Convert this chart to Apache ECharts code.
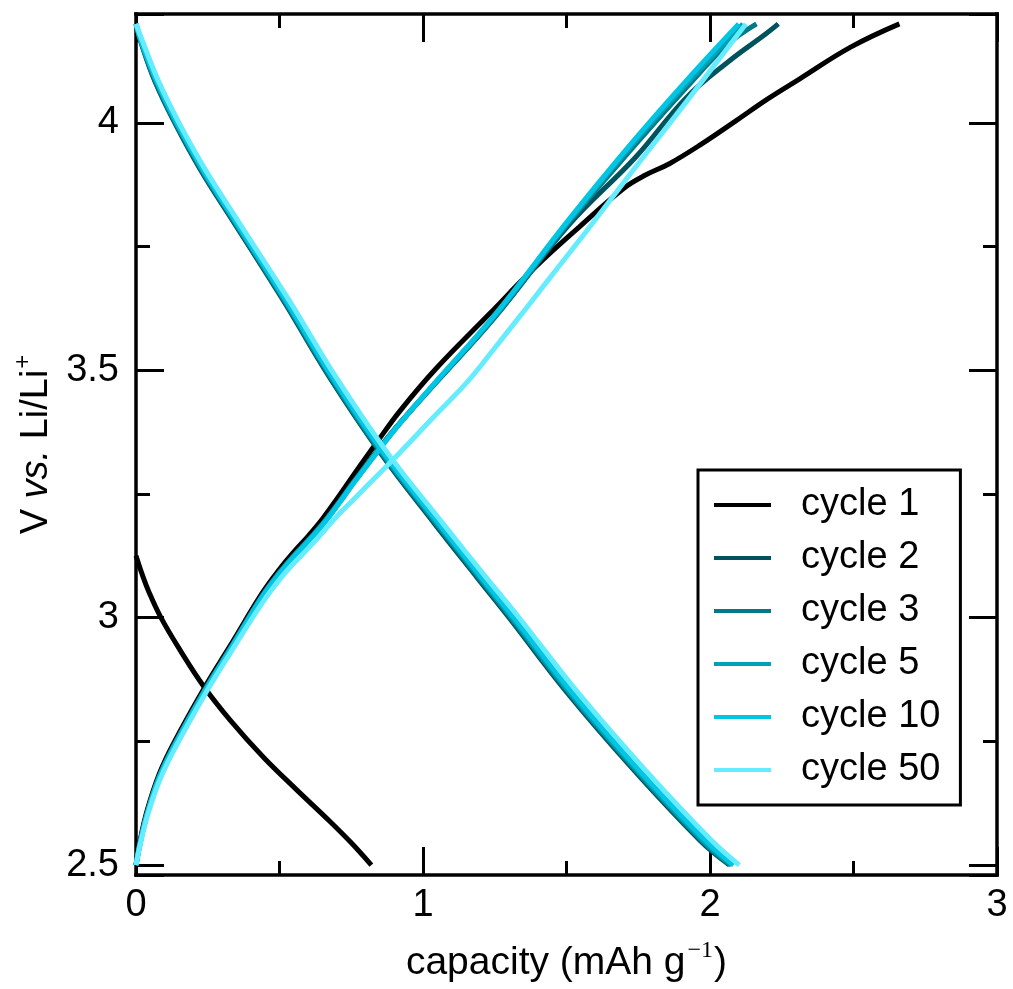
<!DOCTYPE html>
<html>
<head>
<meta charset="utf-8">
<script src="https://cdn.jsdelivr.net/npm/echarts@6/dist/echarts.min.js"></script>
<style>
  html, body { margin: 0; padding: 0; background: #fff; }
  #chart { width: 1013px; height: 989px; }
</style>
</head>
<body>
<div id="chart"></div>
<script>
// Galvanostatic voltage profiles, [capacity (mAh/g), voltage (V vs Li/Li+)]
const cycleNames = ['cycle 1', 'cycle 2', 'cycle 3', 'cycle 5', 'cycle 10', 'cycle 50'];
const cycleColors = ['#000000', '#00525c', '#007a88', '#00a0b6', '#00c6e4', '#66ecff'];

const xTicks = [0, 1, 2, 3];
const yTicks = [2.5, 3, 3.5, 4];

const cycle1Discharge = [[0, 3.125], [0.02, 3.09], [0.045, 3.052], [0.087, 3.0], [0.153, 2.935], [0.235, 2.862],
  [0.328, 2.793], [0.444, 2.718], [0.56, 2.652], [0.676, 2.588], [0.75, 2.545], [0.82, 2.5]];
const cycle1Charge = [[0, 2.5], [0.015, 2.552], [0.04, 2.613], [0.08, 2.683], [0.13, 2.745], [0.24, 2.86], [0.33, 2.945],
  [0.44, 3.05], [0.50, 3.098], [0.55, 3.133], [0.60, 3.165], [0.65, 3.2], [0.70, 3.24], [0.76, 3.29], [0.84, 3.355],
  [0.92, 3.418], [1.045, 3.503], [1.23, 3.613], [1.39, 3.708], [1.545, 3.79], [1.70, 3.868], [1.77, 3.893], [1.86, 3.918],
  [1.97, 3.957], [2.09, 4.004], [2.2, 4.048], [2.31, 4.088], [2.49, 4.153], [2.66, 4.2]];

const cycle2Discharge = [[0, 4.2], [0.02, 4.158], [0.065, 4.085], [0.135, 4.0], [0.225, 3.905], [0.345, 3.795], [0.46, 3.69],
  [0.525, 3.63], [0.675, 3.485], [0.855, 3.33], [1.04, 3.19], [1.19, 3.08], [1.3, 3.0], [1.5, 2.85], [1.73, 2.695],
  [1.965, 2.55], [2.068, 2.5]];
const cycle2Charge = [[0, 2.5], [0.015, 2.548], [0.04, 2.608], [0.08, 2.678], [0.13, 2.74], [0.24, 2.855], [0.33, 2.94],
  [0.44, 3.045], [0.50, 3.092], [0.55, 3.126], [0.60, 3.157], [0.65, 3.19], [0.70, 3.228], [0.76, 3.276], [0.84, 3.337],
  [0.92, 3.394], [1.045, 3.475], [1.25, 3.607], [1.51, 3.795], [1.74, 3.93], [1.916, 4.05], [2.067, 4.125], [2.195, 4.18],
  [2.238, 4.2]];

const cycle3Discharge = [[0, 4.2], [0.02, 4.159], [0.067, 4.085], [0.137, 4.0], [0.228, 3.905], [0.348, 3.795], [0.463, 3.69],
  [0.528, 3.63], [0.678, 3.485], [0.858, 3.33], [1.045, 3.19], [1.195, 3.08], [1.305, 3.0], [1.505, 2.85], [1.735, 2.695],
  [1.97, 2.55], [2.072, 2.5]];
const cycle3Charge = [[0, 2.5], [0.015, 2.547], [0.04, 2.607], [0.08, 2.677], [0.13, 2.739], [0.24, 2.854], [0.33, 2.939],
  [0.44, 3.044], [0.50, 3.091], [0.55, 3.125], [0.60, 3.156], [0.65, 3.189], [0.70, 3.227], [0.76, 3.275], [0.84, 3.336],
  [0.92, 3.393], [1.045, 3.475], [1.25, 3.608], [1.51, 3.8], [1.74, 3.956], [1.92, 4.073], [2.06, 4.158], [2.162, 4.2]];

const cycle5Discharge = [[0, 4.2], [0.02, 4.16], [0.07, 4.085], [0.14, 4.0], [0.231, 3.905], [0.351, 3.795], [0.466, 3.69],
  [0.531, 3.63], [0.682, 3.485], [0.862, 3.33], [1.05, 3.19], [1.2, 3.08], [1.31, 3.0], [1.51, 2.85], [1.74, 2.695],
  [1.975, 2.55], [2.076, 2.5]];
const cycle5Charge = [[0, 2.5], [0.015, 2.546], [0.04, 2.606], [0.08, 2.676], [0.13, 2.738], [0.24, 2.853], [0.33, 2.938],
  [0.44, 3.043], [0.50, 3.09], [0.55, 3.124], [0.60, 3.155], [0.65, 3.188], [0.70, 3.226], [0.76, 3.274], [0.84, 3.335],
  [0.92, 3.393], [1.045, 3.476], [1.25, 3.61], [1.51, 3.803], [1.74, 3.963], [1.92, 4.08], [2.115, 4.2]];

const cycle10Discharge = [[0, 4.2], [0.021, 4.161], [0.072, 4.085], [0.143, 4.0], [0.234, 3.905], [0.354, 3.795], [0.47, 3.69],
  [0.535, 3.63], [0.686, 3.485], [0.867, 3.33], [1.056, 3.19], [1.206, 3.08], [1.317, 3.0], [1.518, 2.85], [1.748, 2.695],
  [1.984, 2.55], [2.082, 2.5]];
const cycle10Charge = [[0, 2.5], [0.015, 2.545], [0.04, 2.605], [0.08, 2.675], [0.13, 2.737], [0.24, 2.852], [0.33, 2.937],
  [0.44, 3.042], [0.50, 3.089], [0.55, 3.123], [0.60, 3.154], [0.65, 3.187], [0.70, 3.225], [0.76, 3.273], [0.84, 3.334],
  [0.92, 3.393], [1.045, 3.477], [1.25, 3.612], [1.51, 3.806], [1.74, 3.968], [1.92, 4.087], [2.10, 4.2]];

const cycle50Discharge = [[0, 4.2], [0.025, 4.162], [0.078, 4.085], [0.15, 4.0], [0.242, 3.905], [0.363, 3.795], [0.48, 3.69],
  [0.546, 3.63], [0.698, 3.485], [0.88, 3.33], [1.07, 3.19], [1.222, 3.08], [1.335, 3.0], [1.538, 2.85], [1.77, 2.695],
  [2.005, 2.55], [2.102, 2.5]];
const cycle50Charge = [[0, 2.5], [0.015, 2.542], [0.04, 2.6], [0.08, 2.668], [0.13, 2.73], [0.24, 2.845], [0.33, 2.93],
  [0.44, 3.03], [0.50, 3.077], [0.55, 3.11], [0.60, 3.14], [0.65, 3.172], [0.70, 3.205], [0.76, 3.24], [0.84, 3.287],
  [0.92, 3.334], [1.036, 3.405], [1.152, 3.475], [1.25, 3.545], [1.359, 3.625], [1.46, 3.7], [1.568, 3.78], [1.684, 3.868],
  [1.78, 3.94], [1.858, 3.998], [1.974, 4.085], [2.125, 4.2]];

const curves = [
  [cycle1Discharge, cycle1Charge],
  [cycle2Discharge, cycle2Charge],
  [cycle3Discharge, cycle3Charge],
  [cycle5Discharge, cycle5Charge],
  [cycle10Discharge, cycle10Charge],
  [cycle50Discharge, cycle50Charge]
];

const FONT = '"Liberation Sans", Arial, Helvetica, sans-serif';
const SERIF = '"Liberation Serif", "Times New Roman", serif';
const INK = '#000';

// each cycle is a discharge branch and a charge branch sharing one legend entry
const series = [];
curves.forEach((pair, i) => {
  pair.forEach(branch => {
    series.push({
      type: 'line',
      name: cycleNames[i],
      data: branch,
      showSymbol: false,
      symbol: 'none',
      smooth: 0.4,
      lineStyle: { color: cycleColors[i], width: 5, cap: 'butt', join: 'round' },
      itemStyle: { color: cycleColors[i] },
      emphasis: { disabled: true },
      silent: true
    });
  });
});

const tickStyle = {
  axisTick: { show: true, inside: true, length: 28, lineStyle: { color: INK, width: 3 } },
  minorTick: { show: true, splitNumber: 2, length: 14, lineStyle: { color: INK, width: 3 } },
  axisLine: { show: true, onZero: false, lineStyle: { color: INK, width: 3.5, cap: 'square' } },
  splitLine: { show: false },
  minorSplitLine: { show: false }
};

const xBase = {
  type: 'value',
  min: xTicks[0],
  max: xTicks[xTicks.length - 1],
  interval: xTicks[1] - xTicks[0],
  ...tickStyle
};
const yBase = {
  type: 'value',
  min: 2.48,
  max: 4.22,
  splitNumber: 4,
  ...tickStyle
};

const option = {
  animation: false,
  backgroundColor: '#fff',
  grid: { left: 136, right: 16, top: 14, bottom: 114, containLabel: false, outerBoundsMode: 'none' },
  xAxis: [
    {
      ...xBase,
      position: 'bottom',
      axisLabel: { show: true, margin: 12, fontSize: 38, fontFamily: FONT, color: INK,
        formatter: v => (xTicks.includes(v) ? String(v) : '') },
      name: '{n|capacity (mAh g}{s|\u22121}{n|)}',
      nameLocation: 'middle',
      nameGap: 64,
      nameTextStyle: {
        color: INK,
        rich: {
          n: { fontSize: 39, fontFamily: FONT, color: INK },
          s: { fontSize: 24, fontFamily: SERIF, color: INK, padding: [0, 1, 24, 2] }
        }
      }
    },
    {
      ...xBase,
      position: 'top',
      axisLabel: { show: false }
    }
  ],
  yAxis: [
    {
      ...yBase,
      position: 'left',
      axisLabel: { show: true, margin: 17, fontSize: 38, fontFamily: FONT, color: INK,
        showMinLabel: false, showMaxLabel: false,
        formatter: v => (yTicks.includes(v) ? String(v) : '') },
      name: '{n|V }{i|vs.}{n| Li/Li}{s|+}',
      nameLocation: 'middle',
      nameGap: 70,
      nameTextStyle: {
        color: INK,
        rich: {
          n: { fontSize: 38, fontFamily: FONT, color: INK },
          i: { fontSize: 38, fontFamily: FONT, fontStyle: 'italic', color: INK },
          s: { fontSize: 24, fontFamily: FONT, color: INK, padding: [0, 0, 26, 1] }
        }
      }
    },
    {
      ...yBase,
      position: 'right',
      axisLabel: { show: false }
    }
  ],
  legend: {
    show: true,
    data: cycleNames,
    orient: 'vertical',
    left: 698,
    top: 470,
    padding: [15, 20, 15, 16],
    itemGap: 13,
    itemWidth: 57,
    itemHeight: 4,
    icon: 'rect',
    borderColor: INK,
    borderWidth: 3,
    borderRadius: 0,
    backgroundColor: '#fff',
    selectedMode: false,
    textStyle: { fontSize: 38, fontFamily: FONT, color: INK, lineHeight: 40, padding: [0, 0, 0, 25] }
  },
  series: series
};

const chart = echarts.init(document.getElementById('chart'), null, { renderer: 'canvas' });
chart.setOption(option);
</script>
</body>
</html>
